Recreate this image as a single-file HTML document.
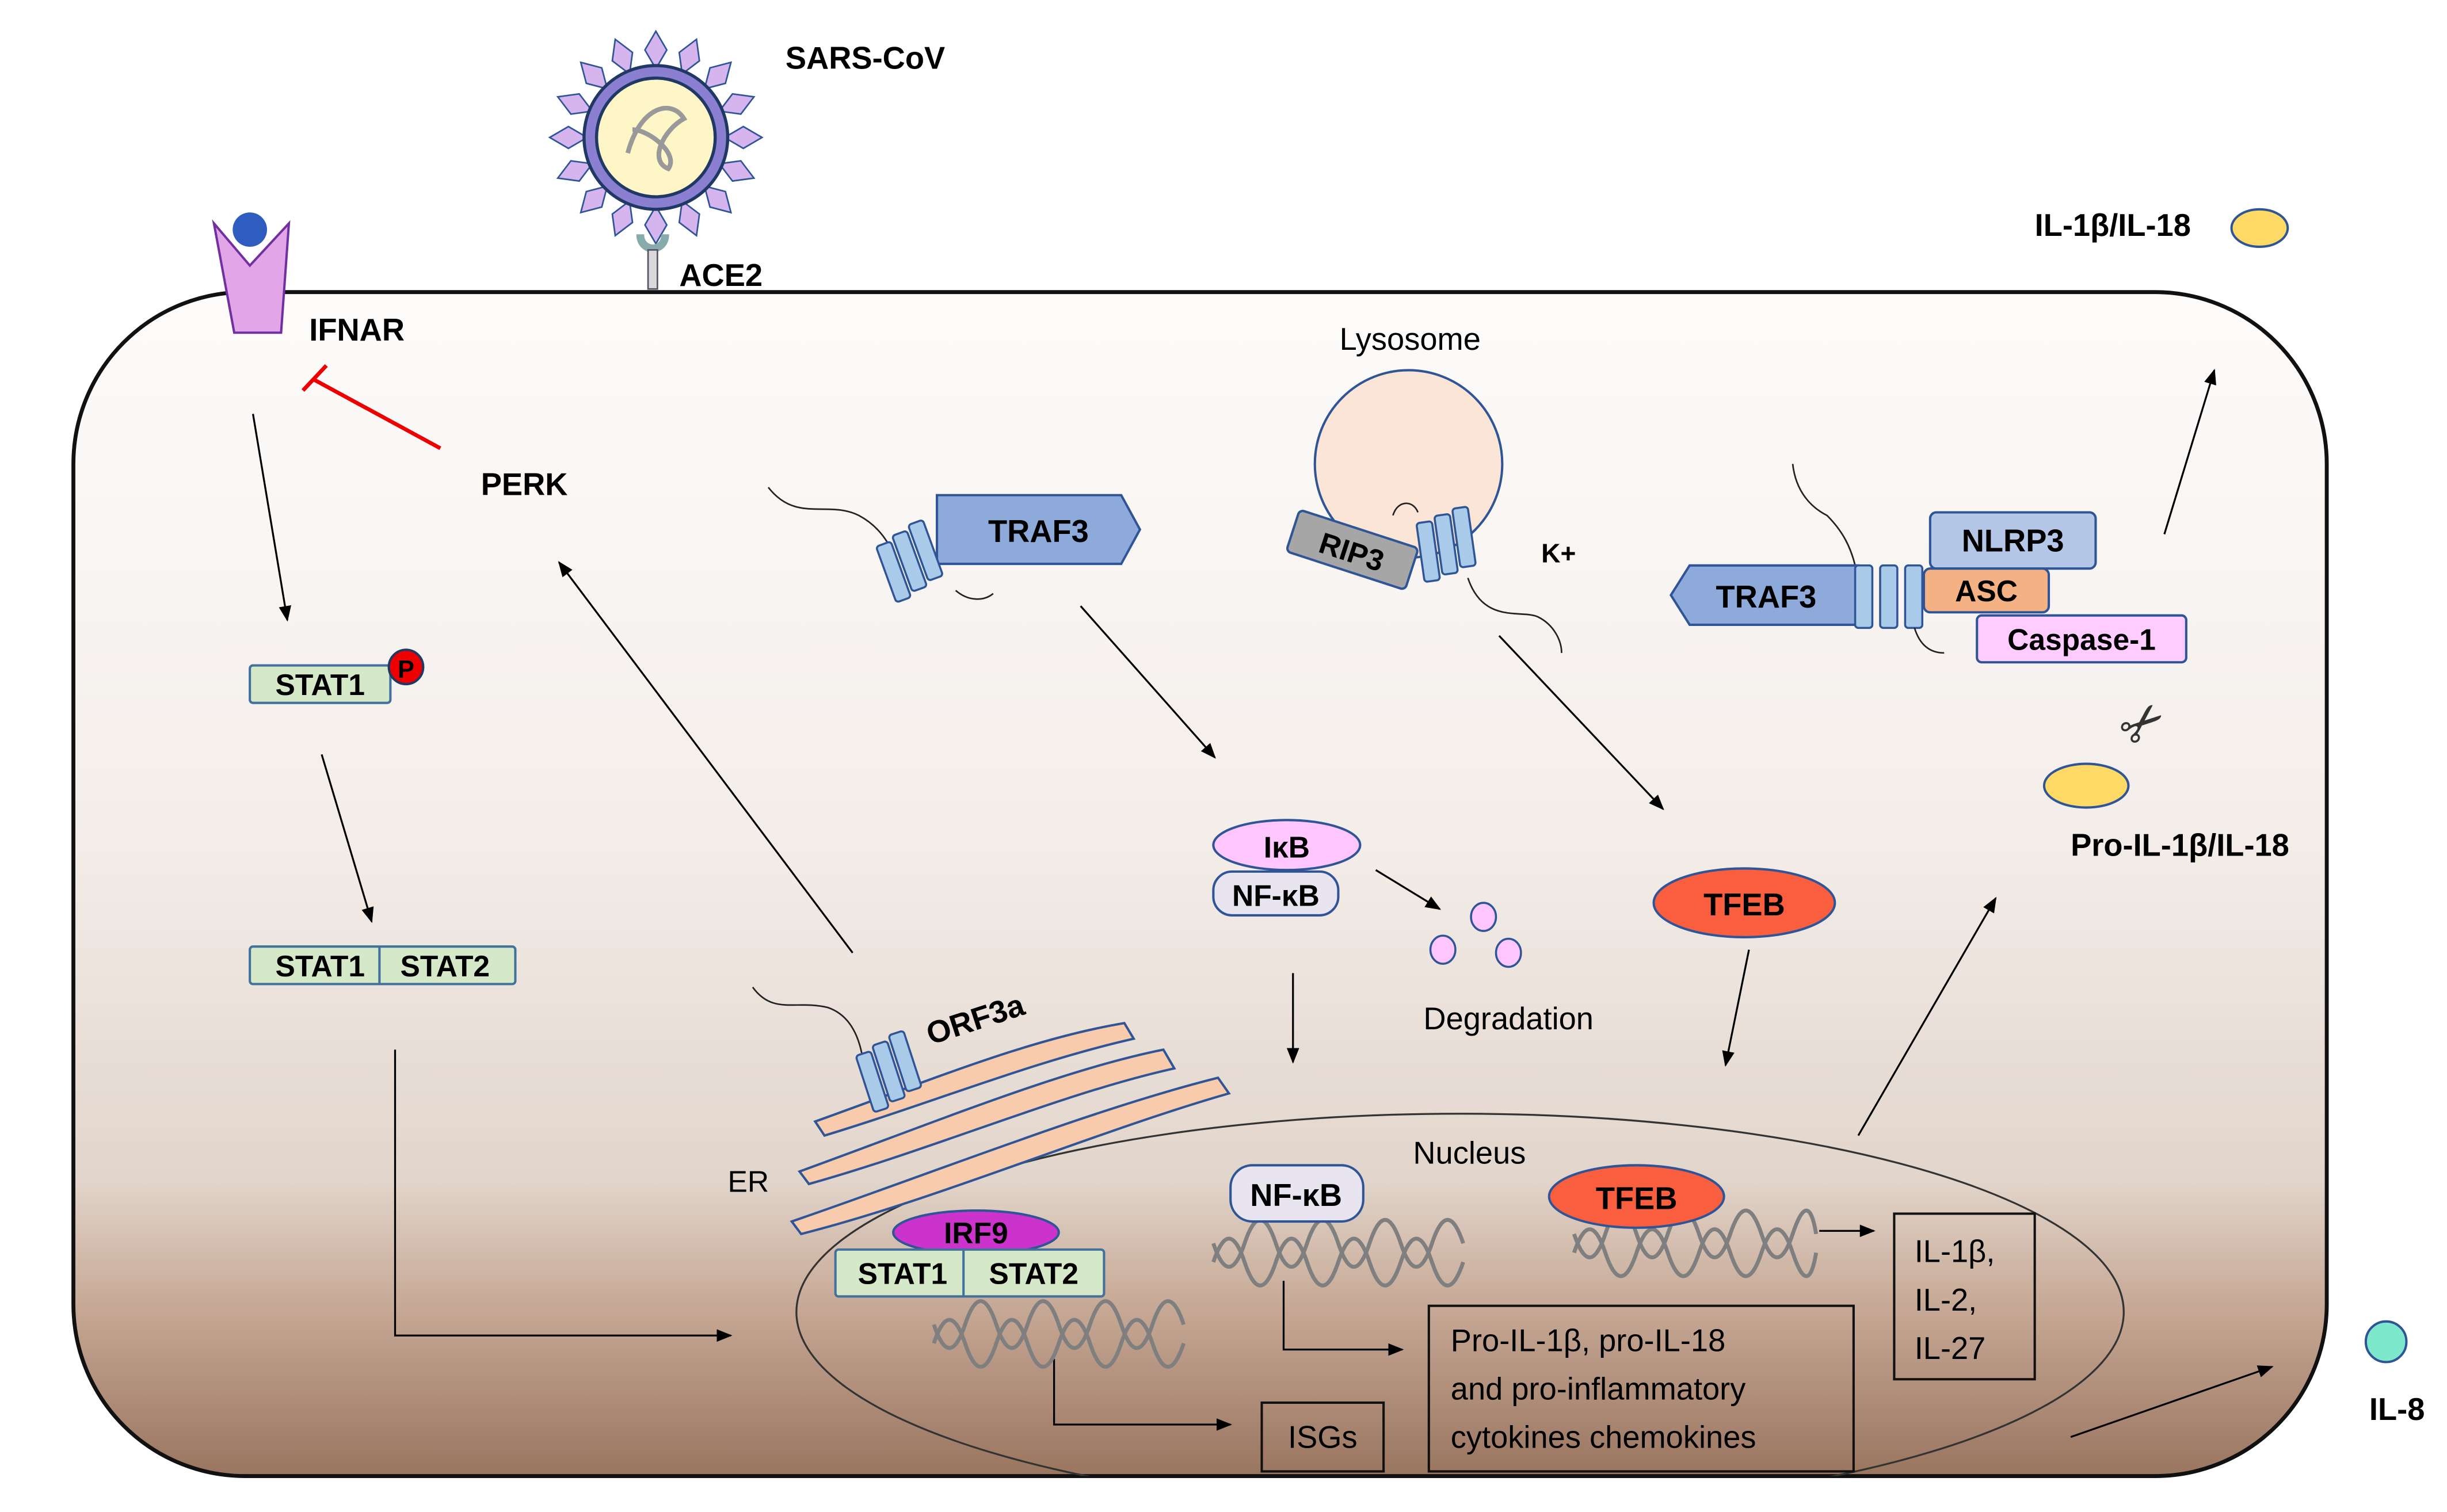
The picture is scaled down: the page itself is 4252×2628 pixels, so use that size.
<!DOCTYPE html>
<html><head><meta charset="utf-8"><style>html,body{margin:0;padding:0;background:#fff}svg{display:block}text{font-family:"Liberation Sans",sans-serif}</style></head><body>
<svg width="4252" height="2628" viewBox="0 0 1567 968" preserveAspectRatio="none" xmlns="http://www.w3.org/2000/svg">
<defs>
<linearGradient id="cg" x1="0" y1="0" x2="0" y2="1">
<stop offset="0" stop-color="#fdfcfb"/><stop offset="0.45" stop-color="#f4eeea"/><stop offset="0.75" stop-color="#e2d5cb"/><stop offset="0.85" stop-color="#c8ab98"/><stop offset="1" stop-color="#9a7560"/></linearGradient>
<marker id="ah" markerWidth="10" markerHeight="10" refX="9" refY="5" orient="auto" markerUnits="userSpaceOnUse"><path d="M0,1 L10,5 L0,9 Z" fill="#000"/></marker>
<clipPath id="cc"><rect x="47" y="187" width="1443" height="758" rx="110"/></clipPath>
<g id="tm"><rect x="0" y="0" width="10" height="38" rx="2" fill="#a9cbe9" stroke="#2f5597" stroke-width="1.3"/><rect x="12" y="-3" width="10" height="38" rx="2" fill="#a9cbe9" stroke="#2f5597" stroke-width="1.3"/><rect x="24" y="-6" width="10" height="38" rx="2" fill="#a9cbe9" stroke="#2f5597" stroke-width="1.3"/></g>
<path id="sp" d="M0,-44 L-7,-56 L0,-68 L7,-56 Z" fill="#d6b4ee" stroke="#2f5597" stroke-width="1"/>
</defs>
<rect width="1567" height="968" fill="#fff"/>
<rect x="47" y="187" width="1443" height="758" rx="110" fill="url(#cg)" stroke="#111" stroke-width="2.5"/>
<g clip-path="url(#cc)"><ellipse cx="935" cy="840" rx="425" ry="127" fill="none" stroke="#333" stroke-width="1.2"/></g>

<!-- virus -->
<g transform="translate(420,88)">
<use href="#sp"/><use href="#sp" transform="rotate(22.5)"/><use href="#sp" transform="rotate(45)"/><use href="#sp" transform="rotate(67.5)"/><use href="#sp" transform="rotate(90)"/><use href="#sp" transform="rotate(112.5)"/><use href="#sp" transform="rotate(135)"/><use href="#sp" transform="rotate(157.5)"/><use href="#sp" transform="rotate(180)"/><use href="#sp" transform="rotate(202.5)"/><use href="#sp" transform="rotate(225)"/><use href="#sp" transform="rotate(247.5)"/><use href="#sp" transform="rotate(270)"/><use href="#sp" transform="rotate(292.5)"/><use href="#sp" transform="rotate(315)"/><use href="#sp" transform="rotate(337.5)"/>
<circle r="46" fill="#8a7fd0" stroke="#1f3864" stroke-width="2"/>
<circle r="38" fill="#fff6c8" stroke="#1f3864" stroke-width="2"/>
<path d="M-18,10 C-10,-20 10,-25 18,-12 C5,-5 -5,15 8,20 C15,10 -5,-5 -15,-5" fill="none" stroke="#999" stroke-width="3"/>
</g>
<path d="M410,150 C410,162 426,162 426,150" fill="none" stroke="#8aa" stroke-width="5"/>
<rect x="415" y="160" width="6" height="25" fill="#d9d9d9" stroke="#556" stroke-width="1"/>
<text x="503" y="44" font-size="20" font-weight="bold">SARS-CoV</text>
<text x="435" y="183" font-size="20" font-weight="bold">ACE2</text>

<!-- IFNAR -->
<path d="M137,143 L160,170 L185,143 L180,213 L150,213 Z" fill="#e2a6e8" stroke="#7030a0" stroke-width="1.5"/>
<circle cx="160" cy="147" r="11" fill="#2f5dbf"/>
<text x="198" y="218" font-size="20" font-weight="bold">IFNAR</text>
<line x1="282" y1="287" x2="201" y2="243" stroke="#e00" stroke-width="2.5"/>
<line x1="194" y1="250" x2="209" y2="234" stroke="#e00" stroke-width="2.5"/>
<text x="308" y="317" font-size="20" font-weight="bold">PERK</text>

<!-- arrows -->
<g stroke="#000" stroke-width="1.2" fill="none" marker-end="url(#ah)">
<line x1="162" y1="265" x2="184" y2="397"/>
<line x1="206" y1="483" x2="238" y2="590"/>
<polyline points="253,672 253,855 468,855"/>
<line x1="546" y1="610" x2="358" y2="360"/>
<line x1="692" y1="388" x2="778" y2="485"/>
<line x1="881" y1="557" x2="922" y2="582"/>
<line x1="828" y1="623" x2="828" y2="680"/>
<line x1="960" y1="407" x2="1065" y2="518"/>
<line x1="1120" y1="608" x2="1105" y2="682"/>
<line x1="1190" y1="727" x2="1278" y2="575"/>
<line x1="1386" y1="342" x2="1418" y2="237"/>
<polyline points="675,870 675,912 788,912"/>
<polyline points="822,820 822,864 898,864"/>
<line x1="1165" y1="788" x2="1200" y2="788"/>
<line x1="1326" y1="920" x2="1455" y2="875"/>
</g>

<!-- STATs -->
<rect x="160" y="426" width="90" height="24" rx="2" fill="#d5e8c8" stroke="#41719c" stroke-width="1.5"/>
<text x="205" y="445" font-size="19" font-weight="bold" text-anchor="middle">STAT1</text>
<circle cx="260" cy="427" r="11" fill="#e00" stroke="#1f3864" stroke-width="1.5"/>
<text x="260" y="434" font-size="16" font-weight="bold" text-anchor="middle">P</text>
<rect x="160" y="606" width="170" height="24" rx="2" fill="#d5e8c8" stroke="#41719c" stroke-width="1.5"/>
<line x1="243" y1="606" x2="243" y2="630" stroke="#41719c" stroke-width="1.5"/>
<text x="205" y="625" font-size="19" font-weight="bold" text-anchor="middle">STAT1</text>
<text x="285" y="625" font-size="19" font-weight="bold" text-anchor="middle">STAT2</text>

<!-- TRAF3 top -->
<path d="M492,312 C510,335 530,320 550,330 C565,338 570,350 575,360" fill="none" stroke="#222" stroke-width="1"/>
<path d="M600,317 L718,317 L730,339 L718,361 L600,361 Z" fill="#8eaadb" stroke="#2f5597" stroke-width="1.5"/>
<text x="665" y="347" font-size="20" font-weight="bold" text-anchor="middle">TRAF3</text>
<g transform="translate(561,350) rotate(-20)"><use href="#tm"/></g>
<path d="M612,378 C620,385 630,385 636,380" fill="none" stroke="#222" stroke-width="1"/>

<!-- Lysosome -->
<text x="903" y="224" font-size="20" text-anchor="middle">Lysosome</text>
<circle cx="902" cy="297" r="60" fill="#fbe5d6" stroke="#2f5597" stroke-width="1.5"/>
<g transform="translate(866,352) rotate(18)"><rect x="-40" y="-14" width="80" height="28" rx="3" fill="#a6a6a6" stroke="#2f5597" stroke-width="1.5"/><text y="8" font-size="19" font-weight="bold" text-anchor="middle">RIP3</text></g>
<g transform="translate(907,335) rotate(-8)"><use href="#tm"/></g>
<path d="M940,370 C950,400 975,390 985,395 C995,400 1000,410 1000,418" fill="none" stroke="#222" stroke-width="1"/>
<path d="M892,330 C895,320 905,320 908,328" fill="none" stroke="#222" stroke-width="1"/>
<text x="987" y="360" font-size="17" font-weight="bold">K+</text>

<!-- NLRP3 complex -->
<path d="M1148,297 C1150,315 1160,325 1170,330 C1180,340 1185,350 1188,362" fill="none" stroke="#222" stroke-width="1"/>
<rect x="1236" y="328" width="106" height="36" rx="4" fill="#b4c7e7" stroke="#2f5597" stroke-width="1.5"/>
<text x="1289" y="353" font-size="20" font-weight="bold" text-anchor="middle">NLRP3</text>
<rect x="1232" y="364" width="80" height="28" rx="4" fill="#f4b183" stroke="#2f5597" stroke-width="1.5"/>
<text x="1272" y="385" font-size="19" font-weight="bold" text-anchor="middle">ASC</text>
<rect x="1266" y="394" width="134" height="30" rx="3" fill="#ffccff" stroke="#2f5597" stroke-width="1.5"/>
<text x="1333" y="416" font-size="19" font-weight="bold" text-anchor="middle">Caspase-1</text>
<path d="M1082,362 L1190,362 L1190,400 L1082,400 L1070,381 Z" fill="#8eaadb" stroke="#2f5597" stroke-width="1.5"/>
<text x="1131" y="389" font-size="20" font-weight="bold" text-anchor="middle">TRAF3</text>
<rect x="1188" y="362" width="11" height="40" rx="2" fill="#a9cbe9" stroke="#2f5597" stroke-width="1.3"/>
<rect x="1204" y="362" width="11" height="40" rx="2" fill="#a9cbe9" stroke="#2f5597" stroke-width="1.3"/>
<rect x="1220" y="362" width="11" height="40" rx="2" fill="#a9cbe9" stroke="#2f5597" stroke-width="1.3"/>
<path d="M1226,402 C1230,415 1238,418 1245,418" fill="none" stroke="#222" stroke-width="1"/>
<text x="1372" y="475" font-size="34" text-anchor="middle" fill="#333" transform="rotate(-40 1372 463)">✂</text>
<ellipse cx="1336" cy="503" rx="27" ry="14" fill="#ffd966" stroke="#2f5597" stroke-width="1.5"/>
<text x="1396" y="548" font-size="20" font-weight="bold" text-anchor="middle">Pro-IL-1β/IL-18</text>
<text x="1303" y="151" font-size="20" font-weight="bold">IL-1β/IL-18</text>
<ellipse cx="1447" cy="146" rx="18" ry="12" fill="#ffd966" stroke="#2f5597" stroke-width="1.5"/>
<circle cx="1528" cy="859" r="13" fill="#7ee8cc" stroke="#2f5597" stroke-width="1.5"/>
<text x="1535" y="909" font-size="20" font-weight="bold" text-anchor="middle">IL-8</text>

<!-- IkB -->
<ellipse cx="824" cy="541" rx="47" ry="16" fill="#ffc6ff" stroke="#2f5597" stroke-width="1.5"/>
<text x="824" y="549" font-size="19" font-weight="bold" text-anchor="middle">IκB</text>
<rect x="777" y="558" width="80" height="28" rx="12" fill="#e8e4f0" stroke="#2f5597" stroke-width="1.5"/>
<text x="817" y="580" font-size="19" font-weight="bold" text-anchor="middle">NF-κB</text>
<g fill="#ffc6ff" stroke="#2f5597" stroke-width="1.3"><ellipse cx="950" cy="587" rx="8" ry="9"/><ellipse cx="924" cy="608" rx="8" ry="9"/><ellipse cx="966" cy="610" rx="8" ry="9"/></g>
<text x="966" y="659" font-size="20" text-anchor="middle">Degradation</text>
<ellipse cx="1117" cy="578" rx="58" ry="22" fill="#f95f3f" stroke="#2f5597" stroke-width="1.5"/>
<text x="1117" y="586" font-size="20" font-weight="bold" text-anchor="middle">TFEB</text>

<!-- ER -->
<g fill="#f8cbad" stroke="#2f5597" stroke-width="1.5">
<path d="M522,718 C600,690 660,665 720,655 L726,665 C660,680 600,705 528,727 Z"/>
<path d="M512,750 C600,718 680,685 745,672 L752,684 C680,700 600,735 518,758 Z"/>
<path d="M507,782 C600,750 700,710 780,690 L787,700 C700,725 600,768 513,790 Z"/>
</g>
<path d="M482,632 C495,650 510,640 530,645 C545,650 550,665 552,675" fill="none" stroke="#222" stroke-width="1"/>
<g transform="translate(548,676) rotate(-18)"><use href="#tm"/></g>
<text x="596" y="669" font-size="20" font-weight="bold" transform="rotate(-18 596 669)">ORF3a</text>
<text x="466" y="763" font-size="19">ER</text>

<!-- Nucleus contents -->
<text x="941" y="745" font-size="20" text-anchor="middle">Nucleus</text>
<ellipse cx="625" cy="789" rx="53" ry="14" fill="#cc33cc" stroke="#2f5597" stroke-width="1.5"/>
<text x="625" y="796" font-size="19" font-weight="bold" text-anchor="middle">IRF9</text>
<rect x="535" y="800" width="172" height="30" rx="2" fill="#d5e8c8" stroke="#41719c" stroke-width="1.5"/>
<line x1="617" y1="800" x2="617" y2="830" stroke="#41719c" stroke-width="1.5"/>
<text x="578" y="822" font-size="19" font-weight="bold" text-anchor="middle">STAT1</text>
<text x="662" y="822" font-size="19" font-weight="bold" text-anchor="middle">STAT2</text>
<g fill="none" stroke="#7f7f7f" stroke-width="2.5">
<path d="M598,860 q10,-30 20,0 t20,0 t20,0 t20,0 t20,0 t20,0 t20,0 t20,0"/>
<path d="M598,848 q10,30 20,0 t20,0 t20,0 t20,0 t20,0 t20,0 t20,0 t20,0"/>
<path d="M777,808 q10,-30 20,0 t20,0 t20,0 t20,0 t20,0 t20,0 t20,0 t20,0"/>
<path d="M777,796 q10,30 20,0 t20,0 t20,0 t20,0 t20,0 t20,0 t20,0 t20,0"/>
<path d="M1008,802 q10,-30 20,0 t20,0 t20,0 t20,0 t20,0 t20,0 t20,0 t15,0"/>
<path d="M1008,790 q10,30 20,0 t20,0 t20,0 t20,0 t20,0 t20,0 t20,0 t15,0"/>
</g>
<rect x="788" y="746" width="85" height="36" rx="14" fill="#e8e4f0" stroke="#2f5597" stroke-width="1.5"/>
<text x="830" y="772" font-size="20" font-weight="bold" text-anchor="middle">NF-κB</text>
<ellipse cx="1048" cy="766" rx="56" ry="20" fill="#f95f3f" stroke="#2f5597" stroke-width="1.5"/>
<text x="1048" y="774" font-size="20" font-weight="bold" text-anchor="middle">TFEB</text>

<rect x="1213" y="777" width="90" height="106" fill="none" stroke="#111" stroke-width="1.5"/>
<text x="1226" y="808" font-size="20">IL-1β,</text>
<text x="1226" y="839" font-size="20">IL-2,</text>
<text x="1226" y="870" font-size="20">IL-27</text>
<rect x="915" y="836" width="272" height="106" fill="none" stroke="#111" stroke-width="1.5"/>
<text x="929" y="865" font-size="20">Pro-IL-1β, pro-IL-18</text>
<text x="929" y="896" font-size="20">and pro-inflammatory</text>
<text x="929" y="927" font-size="20">cytokines chemokines</text>
<rect x="808" y="898" width="78" height="44" fill="none" stroke="#111" stroke-width="1.5"/>
<text x="847" y="927" font-size="20" text-anchor="middle">ISGs</text>
</svg>
</body></html>
